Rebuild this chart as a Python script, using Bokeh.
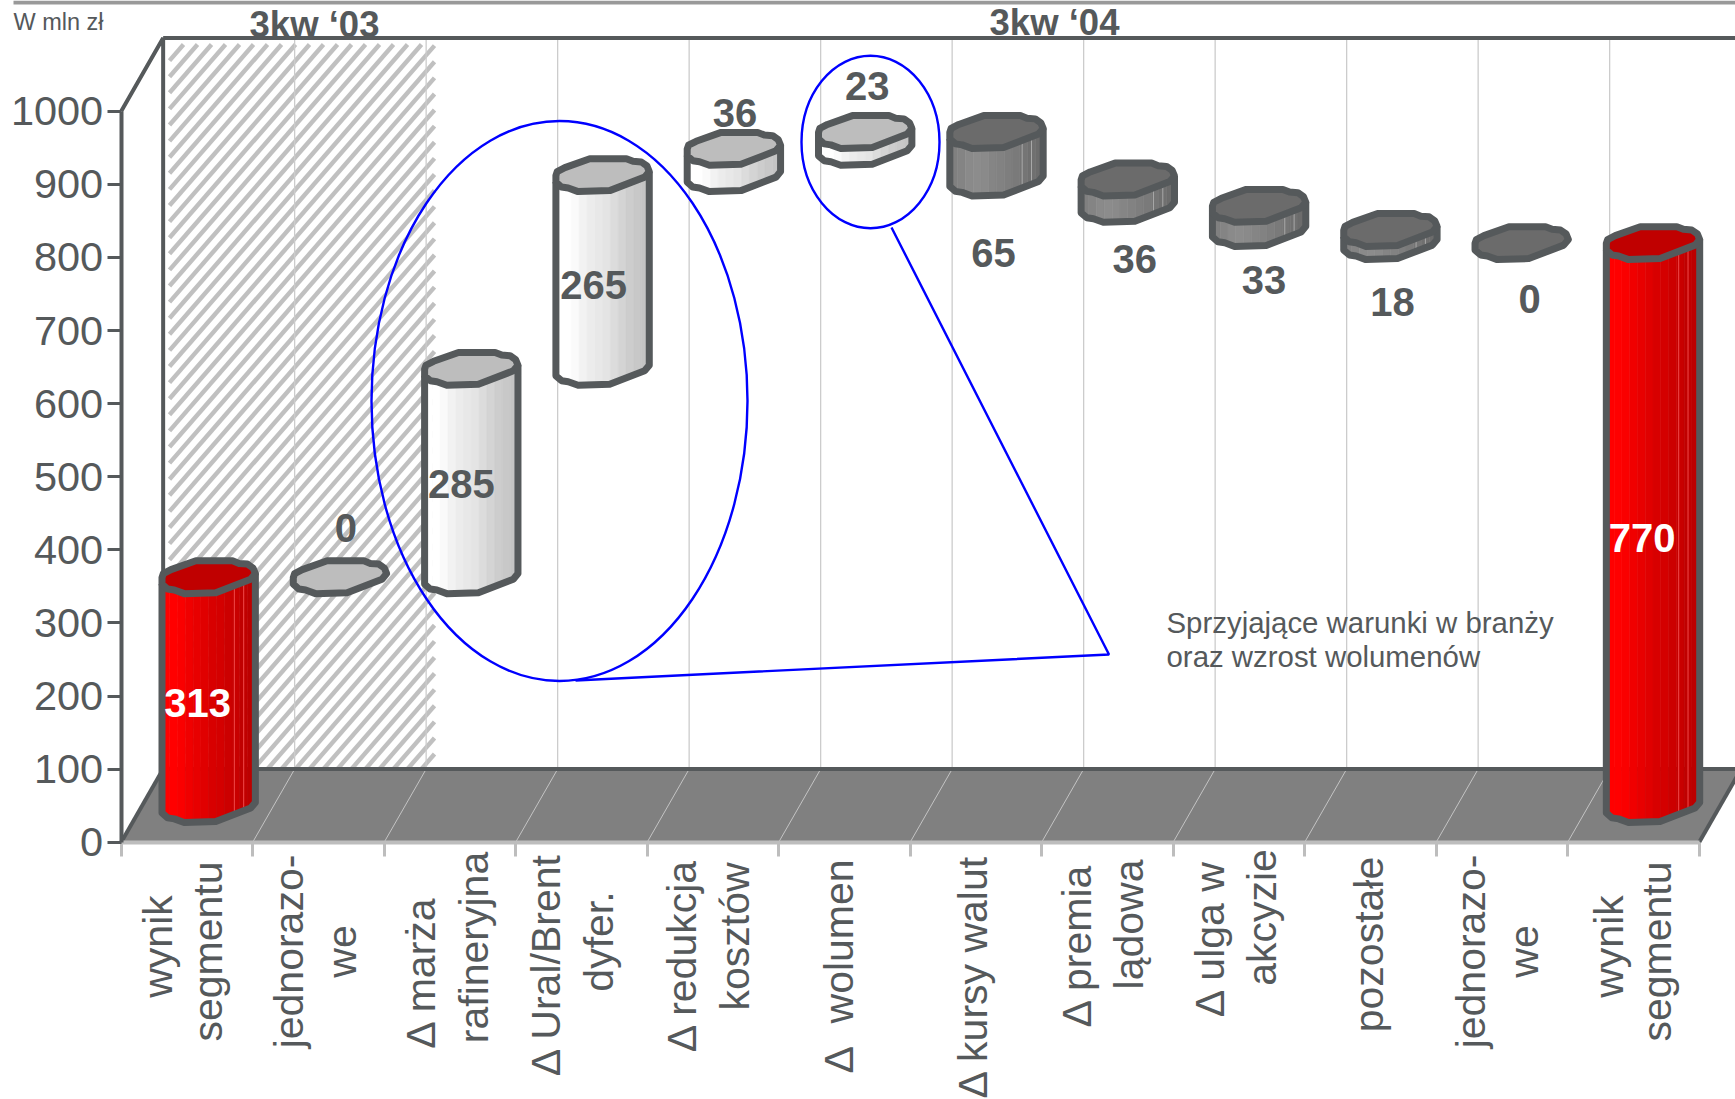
from math import pi

import numpy as np
from bokeh.core.properties import value
from bokeh.embed import file_html
from bokeh.models import FixedTicker, LinearAxis, Range1d
from bokeh.plotting import figure
from bokeh.resources import INLINE

# ---- chart values -------------------------------------------------------
categories = [
    ["wynik", "segmentu"],
    ["jednorazo-", "we"],
    ["Δ marża", "rafineryjna"],
    ["Δ Ural/Brent", "dyfer."],
    ["Δ redukcja", "kosztów"],
    ["Δ\u00a0\u00a0wolumen"],
    ["Δ kursy walut"],
    ["Δ premia", "lądowa"],
    ["Δ ulga w", "akcyzie"],
    ["pozostałe"],
    ["jednorazo-", "we"],
    ["wynik", "segmentu"],
]
deltas = [313, 0, 285, 265, 36, 23, -65, -36, -33, -18, 0, 770]
kinds = ["total", "up", "up", "up", "up", "up", "down", "down", "down", "down", "down", "total"]
y_ticks = [0, 100, 200, 300, 400, 500, 600, 700, 800, 900, 1000]

# ---- scales: one slot per category, value axis in mln zł ------------------
WIDTH, HEIGHT = 1735, 1099
ORIGIN_X, ORIGIN_Y = 120.7, 841.7
SLOT_PX = 131.5
UNIT_PX = 0.731
DEPTH_X = 0.319      # sideways shift of the back wall, in slots
DEPTH_Y = 100        # upward shift of the back wall, in mln zł
N = len(categories)

INK = "#55595b"
FONT = value("Liberation Sans")


def sx(px):
    return (px - ORIGIN_X) / SLOT_PX


def sy(py):
    return (ORIGIN_Y - py) / UNIT_PX


p = figure(
    width=WIDTH, height=HEIGHT, output_backend="svg", toolbar_location=None,
    x_range=Range1d(sx(0), sx(WIDTH)), y_range=Range1d(sy(HEIGHT), sy(0)),
    x_axis_location=None, y_axis_location=None,
    min_border_left=0, min_border_bottom=0, min_border_top=0, min_border_right=0,
    outline_line_color=None, background_fill_color="white", border_fill_color="white",
)
p.grid.visible = False

# ---- floor and back wall ------------------------------------------------
p.quad(left=sx(13), right=sx(WIDTH), top=sy(0), bottom=sy(4), fill_color="#999999", line_color=None)
p.patch([0, N, N + DEPTH_X, DEPTH_X], [0, 0, DEPTH_Y, DEPTH_Y], fill_color="#808080", line_color=None)

# diagonal hatching behind the 2003 quarter
HATCH_L, HATCH_R, HATCH_T, HATCH_B = 169, 434, 44, 769
HATCH_SLOPE = 1.15
HATCH_STEP = 14
hx, hy = [], []
for start in np.arange(HATCH_L - (HATCH_B - HATCH_T) / HATCH_SLOPE, HATCH_R, HATCH_STEP):
    x0, x1 = start, start + (HATCH_B - HATCH_T) / HATCH_SLOPE
    a, b = max(x0, HATCH_L), min(x1, HATCH_R)
    if a >= b:
        continue
    hx.append([sx(a), sx(b)])
    hy.append([sy(HATCH_B - (a - x0) * HATCH_SLOPE), sy(HATCH_B - (b - x0) * HATCH_SLOPE)])
p.multi_line(hx, hy, line_color="#c0c0c0", line_width=4.4)

ticks = np.arange(N + 1)
p.segment(ticks[1:] + DEPTH_X, DEPTH_Y, ticks[1:] + DEPTH_X, 1000 + DEPTH_Y, line_color="#cccccc", line_width=1.3)
p.segment(ticks[1:], 0, ticks[1:] + DEPTH_X, DEPTH_Y, line_color="#c4c4c4", line_width=1)

p.line([0, DEPTH_X, DEPTH_X, sx(WIDTH)], [1000, 1000 + DEPTH_Y, DEPTH_Y, DEPTH_Y], line_color=INK, line_width=4)
p.line([DEPTH_X, sx(WIDTH)], [1000 + DEPTH_Y] * 2, line_color=INK, line_width=4)
p.line([0, DEPTH_X], [0, DEPTH_Y], line_color=INK, line_width=4)
p.line([N, N + DEPTH_X], [0, DEPTH_Y], line_color=INK, line_width=4)

# ---- axes pinned to the front corner of the floor --------------------------
ya = LinearAxis(
    fixed_location=0, ticker=FixedTicker(ticks=y_ticks), bounds=(0, 1000),
    axis_line_color=INK, axis_line_width=4,
    major_tick_line_color=INK, major_tick_line_width=3, major_tick_out=14, major_tick_in=0,
    minor_tick_line_color=None,
    major_label_text_font="Liberation Sans", major_label_text_font_size="41.5px",
    major_label_text_color=INK, major_label_standoff=4,
)
p.add_layout(ya, "left")
xa = LinearAxis(
    fixed_location=0, ticker=FixedTicker(ticks=list(range(N + 1))), bounds=(0, N),
    axis_line_color="#bdbdbd", axis_line_width=4,
    major_tick_line_color="#bdbdbd", major_tick_line_width=3, major_tick_out=14, major_tick_in=0,
    minor_tick_line_color=None,
    major_label_overrides={i: "" for i in range(N + 1)},
)
p.add_layout(xa, "below")

# ---- faceted waterfall columns -------------------------------------------
BAR_PITCH = 0.9985
BAR_SHIFT = 0.166     # columns stand a little behind the slot centre
BAR_W = 0.71
BAR_LIFT = 27         # height of the column's foot above the front edge
CAP_H = 45

# outline of the top face, u across the width, v down from its highest point
cap_u = [0, .014, .096, .363, .755, .826, .915, .975, 1, .95, .576, .238, .132, .06, 0]
cap_v = [.51, .39, .27, 0, 0, .08, .10, .22, .39, .56, .97, 1, .89, .86, .71]
# the front rim of the cap, which the body hangs from
rim_u = [0, .06, .132, .238, .576, .95, 1]
rim_v = [.71, .86, .89, 1, .97, .56, .39]

shades = {
    "total": dict(cap="#c00000", hi="#f04a4a",
                  strips=["#ff0000", "#ff0000", "#fa0000", "#f00000", "#e80000", "#e00000",
                          "#d80000", "#d40000", "#cc0000", "#c80000", "#c00000", "#bc0000"]),
    "up": dict(cap="#bdbdbd", hi=None,
               strips=["#ffffff", "#ffffff", "#fafafa", "#f2f2f2", "#ececec", "#e8e8e8",
                       "#e4e4e4", "#dcdcdc", "#d4d4d4", "#cdcdcd", "#c8c8c8", "#c4c4c4"]),
    "down": dict(cap="#6b6b6b", hi="#a8a8a8",
                 strips=["#808080", "#848484", "#8a8a8a", "#8c8c8c", "#8a8a8a", "#858585",
                         "#828282", "#7e7e7e", "#7a7a7a", "#757575", "#707070", "#6c6c6c"]),
}

levels = []
level = 0
for i, d in enumerate(deltas):
    if kinds[i] == "total":
        low, high = 0, d
        level = d
    else:
        low, high = sorted((level, level + d))
        level += d
    levels.append((low, high))


def cap_y(top, v):
    return top + BAR_LIFT + (1 - np.asarray(v, dtype=float)) * CAP_H


def bar_centre(i):
    return (i + 0.5) * BAR_PITCH + BAR_SHIFT


for i, (low, high) in enumerate(levels):
    left = bar_centre(i) - BAR_W / 2
    style = shades[kinds[i]]
    if high > low:
        edges = np.linspace(0, 1, len(style["strips"]) + 1)
        sxs, sys = [], []
        for a, b in zip(edges[:-1], edges[1:]):
            va, vb = np.interp([a, b], rim_u, rim_v)
            sxs.append([left + a * BAR_W, left + b * BAR_W, left + b * BAR_W, left + a * BAR_W])
            sys.append([cap_y(high, va), cap_y(high, vb), cap_y(low, vb), cap_y(low, va)])
        p.patches(sxs, sys, fill_color=style["strips"], line_color=style["strips"], line_width=0.6)
        if style["hi"]:
            for u in (.775, .875):
                v = np.interp(u, rim_u, rim_v)
                p.line([left + u * BAR_W] * 2, [cap_y(high, v), cap_y(low, v)],
                       line_color=style["hi"], line_width=1)
        # silhouette: foot rim plus both sides
        ox = [left + u * BAR_W for u in rim_u]
        oy = list(cap_y(low, rim_v))
        p.line([left] + ox + [left + BAR_W], [cap_y(high, rim_v[0])] + oy + [cap_y(high, rim_v[-1])],
               line_color=INK, line_width=7, line_join="round")
    p.patch([left + u * BAR_W for u in cap_u], cap_y(high, cap_v),
            fill_color=style["cap"], line_color=INK, line_width=7, line_join="round")

# ---- value labels ---------------------------------------------------------
value_dx_px = [-11, 6, -10, -9, 1, 2, -3, 7, 5, 2, 8, -11]
value_y = [191, 430, 490, 762, 998, 1034, 806, 798, 769, 739, 743, 416]
p.text(
    [bar_centre(i) + dx / SLOT_PX for i, dx in enumerate(value_dx_px)], value_y,
    text=[str(abs(d)) for d in deltas],
    text_font=FONT, text_font_style="bold", text_font_size="40px",
    text_align="center", text_baseline="middle",
    text_color=["white" if k == "total" else INK for k in kinds],
)

# ---- call-out ellipses and leader -----------------------------------------
p.ellipse([sx(559), sx(870)], [sy(400.5), sy(141.5)],
          width=[376 / SLOT_PX, 138 / SLOT_PX], height=[560 / UNIT_PX, 172.5 / UNIT_PX],
          fill_color=None, line_color="#0000ff", line_width=2.4)
p.line([sx(891), sx(1108.5), sx(575)], [sy(227), sy(654), sy(680)], line_color="#0000ff", line_width=2.4)

for text, py in (("Sprzyjające warunki w branży", 622), ("oraz wzrost wolumenów", 656)):
    p.text([sx(1166)], [sy(py)], text=[text], text_font=FONT, text_font_size="29.4px",
           text_align="left", text_baseline="middle", text_color=INK)

# ---- period headings and unit note -----------------------------------------
for text, px, py in (("3kw ‘03", 314, 24), ("3kw ‘04", 1054, 22)):
    p.text([sx(px)], [sy(py)], text=[text], text_font=FONT, text_font_style="bold",
           text_font_size="36.5px", text_align="center", text_baseline="middle", text_color=INK)

p.text([sx(13)], [sy(21)], text=["W mln zł"], text_font=FONT, text_font_size="23.5px",
       text_color=INK, text_align="left", text_baseline="middle")

# ---- category captions, one rotated line of text at a time ------------------
caption_x_px = [[157.5, 207.5], [288.5, 341.5], [420.5, 473.5], [545.5, 598.5], [681, 734],
                [838.5], [972], [1076.5, 1128.5], [1209.5, 1261.5], [1368], [1470, 1523], [1608, 1656]]
caption_y_px = [[946, 951], [951, 951], [972, 947], [964, 941], [955, 936],
                [966], [976], [945, 924], [938, 917], [944], [951, 951], [946, 951]]
cx, cy, ct = [], [], []
for lines, xs, ys in zip(categories, caption_x_px, caption_y_px):
    for line, px, py in zip(lines, xs, ys):
        cx.append(sx(px))
        cy.append(sy(py))
        ct.append(line)
p.text(cx, cy, text=ct, angle=pi / 2, text_font=FONT, text_font_size="41px", text_color=INK,
       text_align="center", text_baseline="middle")

open("out.html", "w").write(file_html(p, INLINE))
